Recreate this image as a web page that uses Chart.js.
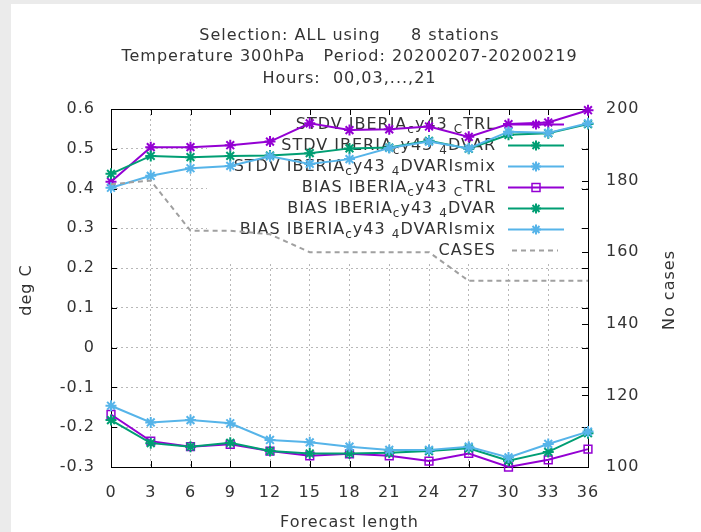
<!DOCTYPE html>
<html>
<head>
<meta charset="utf-8">
<script src="https://cdn.jsdelivr.net/npm/chart.js@4.4.1/dist/chart.umd.min.js"></script>
<style>
  html, body { margin: 0; padding: 0; background: #ebebeb; }
  #wrap { position: absolute; left: 11px; top: 4px; width: 690px; height: 528px; background: #fff; }
</style>
</head>
<body>
<div id="wrap"><canvas id="verifChart" width="690" height="528"></canvas></div>
<script>
// forecast length (hours)
const hours = ['0', '3', '6', '9', '12', '15', '18', '21', '24', '27', '30', '33', '36'];

const stdvCtrl  = [0.417, 0.504, 0.504, 0.509, 0.518, 0.564, 0.547, 0.549, 0.556, 0.530, 0.562, 0.566, 0.597];
const stdv4dvar = [0.437, 0.482, 0.479, 0.482, 0.483, 0.489, 0.501, 0.503, 0.520, 0.500, 0.535, 0.539, 0.562];
const stdvIsmix = [0.402, 0.432, 0.451, 0.457, 0.481, 0.462, 0.474, 0.502, 0.518, 0.501, 0.543, 0.540, 0.564];
const biasCtrl  = [-0.168, -0.235, -0.249, -0.243, -0.260, -0.272, -0.267, -0.272, -0.285, -0.266, -0.300, -0.282, -0.255];
const bias4dvar = [-0.182, -0.240, -0.249, -0.239, -0.260, -0.266, -0.266, -0.264, -0.260, -0.253, -0.284, -0.262, -0.215];
const biasIsmix = [-0.146, -0.188, -0.182, -0.190, -0.232, -0.238, -0.249, -0.257, -0.257, -0.249, -0.276, -0.242, -0.211];
const cases     = [179, 180, 166, 166, 165, 160, 160, 160, 160, 152, 152, 152, 152];

const titleLines = ['Selection: ALL using     8 stations', 'Temperature 300hPa   Period: 20200207-20200219', 'Hours:  00,03,...,21'];

const PURPLE = '#9400d3';
const GREEN = '#009e73';
const BLUE = '#56b4e9';
const GREY = '#a0a0a0';
const FONT = '"DejaVu Sans", sans-serif';
const TXT = '#333';

function series(label, data, color, style, i) {
  return {
    label: label,
    data: data,
    yAxisID: 'y',
    borderColor: color,
    borderWidth: 2,
    pointStyle: style,
    pointRadius: 5.5,
    pointBorderWidth: style === 'rect' ? 1.5 : 2,
    pointBorderColor: color,
    pointBackgroundColor: style === 'rect' ? 'rgba(0,0,0,0)' : color,
    fill: false,
    tension: 0,
    clip: false,
    order: 6 - i
  };
}

// gnuplot style key, drawn under the data lines
function drawRich(ctx, label, rightX, y) {
  const parts = [];
  for (let i = 0; i < label.length; i++) {
    if (label[i] === '_' && i + 1 < label.length) {
      parts.push({ t: label[i + 1], sub: true });
      i++;
    } else if (parts.length && !parts[parts.length - 1].sub) {
      parts[parts.length - 1].t += label[i];
    } else {
      parts.push({ t: label[i], sub: false });
    }
  }
  let total = 0;
  parts.forEach(p => {
    ctx.font = (p.sub ? '12px ' : '16px ') + FONT;
    p.w = ctx.measureText(p.t).width;
    total += p.w;
  });
  let x = rightX - total;
  ctx.textAlign = 'left';
  ctx.textBaseline = 'middle';
  parts.forEach(p => {
    ctx.font = (p.sub ? '12px ' : '16px ') + FONT;
    ctx.fillText(p.t, x, p.sub ? y + 5 : y);
    x += p.w;
  });
}

const framePlugin = {
  id: 'frame',
  beforeUpdate(chart) { chart.ctx.letterSpacing = '1px'; },
  beforeDraw(chart) { chart.ctx.letterSpacing = '1px'; },
  beforeDatasetsDraw(chart) {
    const ctx = chart.ctx;
    const a = chart.chartArea;
    ctx.save();
    // key box
    ctx.fillStyle = '#fff';
    ctx.fillRect(196, 106, 373, 152);
    chart.data.datasets.forEach((ds, i) => {
      const y = 120.5 + 21 * i;
      ctx.fillStyle = TXT;
      drawRich(ctx, ds.label, 485, y);
      ctx.strokeStyle = ds.borderColor;
      ctx.lineWidth = ds.borderWidth;
      ctx.setLineDash(ds.borderDash || []);
      ctx.beginPath();
      if (ds.borderDash) { ctx.moveTo(501, y); ctx.lineTo(547, y); }
      else { ctx.moveTo(497, y); ctx.lineTo(553, y); }
      ctx.stroke();
      ctx.setLineDash([]);
      if (ds.pointRadius > 0) {
        const r = 5;
        ctx.lineWidth = ds.pointBorderWidth;
        ctx.beginPath();
        if (ds.pointStyle === 'rect') {
          ctx.rect(525 - 4, y - 4, 8, 8);
        } else {
          ctx.moveTo(525 - r, y); ctx.lineTo(525 + r, y);
          ctx.moveTo(525, y - r); ctx.lineTo(525, y + r);
          ctx.moveTo(525 - r * 0.7, y - r * 0.7); ctx.lineTo(525 + r * 0.7, y + r * 0.7);
          ctx.moveTo(525 - r * 0.7, y + r * 0.7); ctx.lineTo(525 + r * 0.7, y - r * 0.7);
        }
        ctx.stroke();
      }
    });
    // border and inward ticks
    ctx.strokeStyle = '#000';
    ctx.lineWidth = 1;
    ctx.strokeRect(a.left + 0.5, a.top + 0.5, a.right - a.left, a.bottom - a.top);
    const tl = 6;
    ctx.beginPath();
    chart.scales.x.ticks.forEach((t, i) => {
      const x = Math.round(chart.scales.x.getPixelForTick(i)) + 0.5;
      ctx.moveTo(x, a.bottom); ctx.lineTo(x, a.bottom - tl);
      ctx.moveTo(x, a.top); ctx.lineTo(x, a.top + tl);
    });
    chart.scales.y.ticks.forEach(t => {
      const y = Math.round(chart.scales.y.getPixelForValue(t.value)) + 0.5;
      ctx.moveTo(a.left, y); ctx.lineTo(a.left + tl, y);
      ctx.moveTo(a.right, y); ctx.lineTo(a.right - tl, y);
    });
    chart.scales.y2.ticks.forEach(t => {
      const y = Math.round(chart.scales.y2.getPixelForValue(t.value)) + 0.5;
      ctx.moveTo(a.right, y); ctx.lineTo(a.right - tl, y);
    });
    ctx.stroke();
    ctx.restore();
  },
  afterDraw(chart) {
    const ctx = chart.ctx;
    ctx.save();
    ctx.fillStyle = TXT;
    ctx.font = '16px ' + FONT;
    ctx.textAlign = 'center';
    ctx.textBaseline = 'middle';
    titleLines.forEach((t, i) => ctx.fillText(t, 338.5, 31.5 + 21.5 * i));
    ctx.fillText('Forecast length', 338.5, 518.5);
    ctx.translate(16, 286);
    ctx.rotate(-Math.PI / 2);
    ctx.fillText('deg C', 0, 0);
    ctx.restore();
    ctx.save();
    ctx.fillStyle = TXT;
    ctx.font = '16px ' + FONT;
    ctx.textAlign = 'center';
    ctx.textBaseline = 'middle';
    ctx.translate(659, 286);
    ctx.rotate(-Math.PI / 2);
    ctx.fillText('No cases', 0, 0);
    ctx.restore();
  }
};

const gridStyle = { color: '#b8b8b8', lineWidth: 1, drawTicks: false };

const ctx = document.getElementById('verifChart').getContext('2d');
const verifChart = new Chart(ctx, {
  type: 'line',
  data: {
    labels: hours,
    datasets: [
      series('STDV IBERIA_cy43 _CTRL', stdvCtrl, PURPLE, 'star', 0),
      series('STDV IBERIA_cy43 _4DVAR', stdv4dvar, GREEN, 'star', 1),
      series('STDV IBERIA_cy43 _4DVARIsmix', stdvIsmix, BLUE, 'star', 2),
      series('BIAS IBERIA_cy43 _CTRL', biasCtrl, PURPLE, 'rect', 3),
      series('BIAS IBERIA_cy43 _4DVAR', bias4dvar, GREEN, 'star', 4),
      series('BIAS IBERIA_cy43 _4DVARIsmix', biasIsmix, BLUE, 'star', 5),
      {
        label: 'CASES',
        data: cases,
        yAxisID: 'y2',
        borderColor: GREY,
        borderWidth: 2,
        borderDash: [5, 4],
        pointRadius: 0,
        fill: false,
        tension: 0,
        clip: false,
        order: 0
      }
    ]
  },
  options: {
    responsive: false,
    animation: false,
    layout: { padding: { top: 105, left: 0, right: 0, bottom: 0 } },
    plugins: {
      legend: { display: false },
      title: { display: false },
      tooltip: { enabled: false }
    },
    scales: {
      x: {
        offset: false,
        grid: gridStyle,
        border: { display: false, dash: [2, 3] },
        ticks: { color: TXT, font: { family: FONT, size: 16 }, padding: 16, maxRotation: 0, autoSkip: false },
        afterFit(scale) { scale.height = 65; }
      },
      y: {
        position: 'left',
        min: -0.3,
        max: 0.6,
        grid: gridStyle,
        border: { display: false, dash: [2, 3] },
        ticks: {
          stepSize: 0.1,
          color: TXT,
          font: { family: FONT, size: 16 },
          padding: 16,
          callback: v => String(Math.round(v * 10) / 10)
        },
        afterFit(scale) { scale.width = 100; }
      },
      y2: {
        position: 'right',
        min: 100,
        max: 200,
        grid: { display: false, drawTicks: false },
        border: { display: false },
        ticks: { stepSize: 20, color: TXT, font: { family: FONT, size: 16 }, padding: 18 },
        afterFit(scale) { scale.width = 113; }
      }
    }
  },
  plugins: [framePlugin]
});
</script>
</body>
</html>
